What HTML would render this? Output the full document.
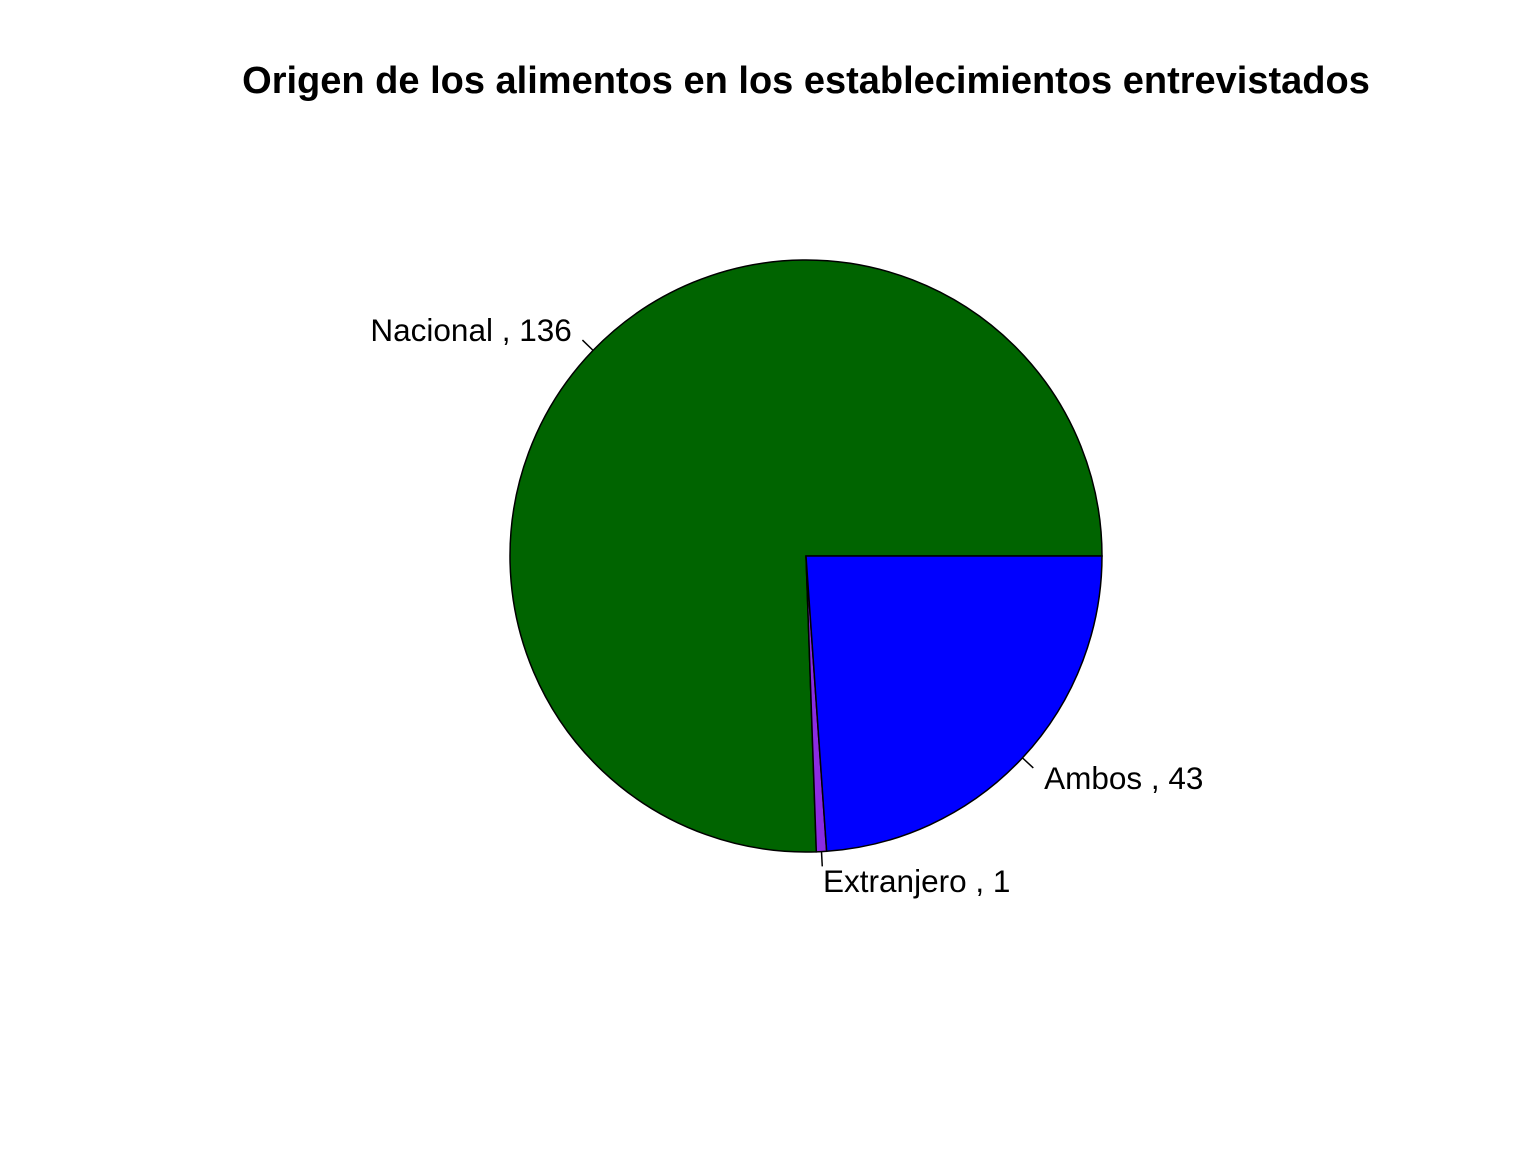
<!DOCTYPE html>
<html><head><meta charset="utf-8"><style>
html,body{margin:0;padding:0;background:#fff;}
svg{display:block;font-family:"Liberation Sans",Arial,sans-serif;}
</style></head><body>
<svg id="chart" width="1536" height="1152" viewBox="0 0 1536 1152">
<rect width="1536" height="1152" fill="#fff"/>
<text x="806" y="93" text-anchor="middle" font-size="38" font-weight="bold">Origen de los alimentos en los establecimientos entrevistados</text>
<g id="slices"></g>
<g id="labels"></g>
</svg>
<script>
const categories = ["Nacional", "Extranjero", "Ambos"];
const values = [136, 1, 43];
const colors = ["#006400", "#8A2BE2", "#0000FF"];

const cx = 806, cy = 556, r = 296;
const NS = "http://www.w3.org/2000/svg";
const total = values.reduce((a, b) => a + b, 0);
const gS = document.getElementById("slices");
const gL = document.getElementById("labels");
function pt(a, k) { return [cx + k * r * Math.cos(a), cy - k * r * Math.sin(a)]; }
let start = 0;
values.forEach((v, i) => {
  const a0 = start / total * 2 * Math.PI;
  const a1 = (start + v) / total * 2 * Math.PI;
  start += v;
  const p0 = pt(a0, 1), p1 = pt(a1, 1);
  const large = (a1 - a0) > Math.PI ? 1 : 0;
  const path = document.createElementNS(NS, "path");
  path.setAttribute("d", `M${cx},${cy} L${p0[0]},${p0[1]} A${r},${r} 0 ${large} 0 ${p1[0]},${p1[1]} Z`);
  path.setAttribute("fill", colors[i]);
  path.setAttribute("stroke", "#000");
  path.setAttribute("stroke-width", "1.5");
  
  
  gS.appendChild(path);
  const am = (a0 + a1) / 2;
  const l0 = pt(am, 1), l1 = pt(am, 1.05), lt = pt(am, 1.1);
  const line = document.createElementNS(NS, "line");
  line.setAttribute("x1", l0[0]); line.setAttribute("y1", l0[1]);
  line.setAttribute("x2", l1[0]); line.setAttribute("y2", l1[1]);
  line.setAttribute("stroke", "#000"); line.setAttribute("stroke-width", "1.5");
  
  
  gL.appendChild(line);
  const t = document.createElementNS(NS, "text");
  t.setAttribute("x", lt[0]); t.setAttribute("y", lt[1] + 11);
  t.setAttribute("font-size", "31.5");
  t.setAttribute("text-anchor", Math.cos(am) > 0 ? "start" : "end");
  t.textContent = categories[i] + " , " + v;
  
  
  gL.appendChild(t);
});
</script>
</body></html>
